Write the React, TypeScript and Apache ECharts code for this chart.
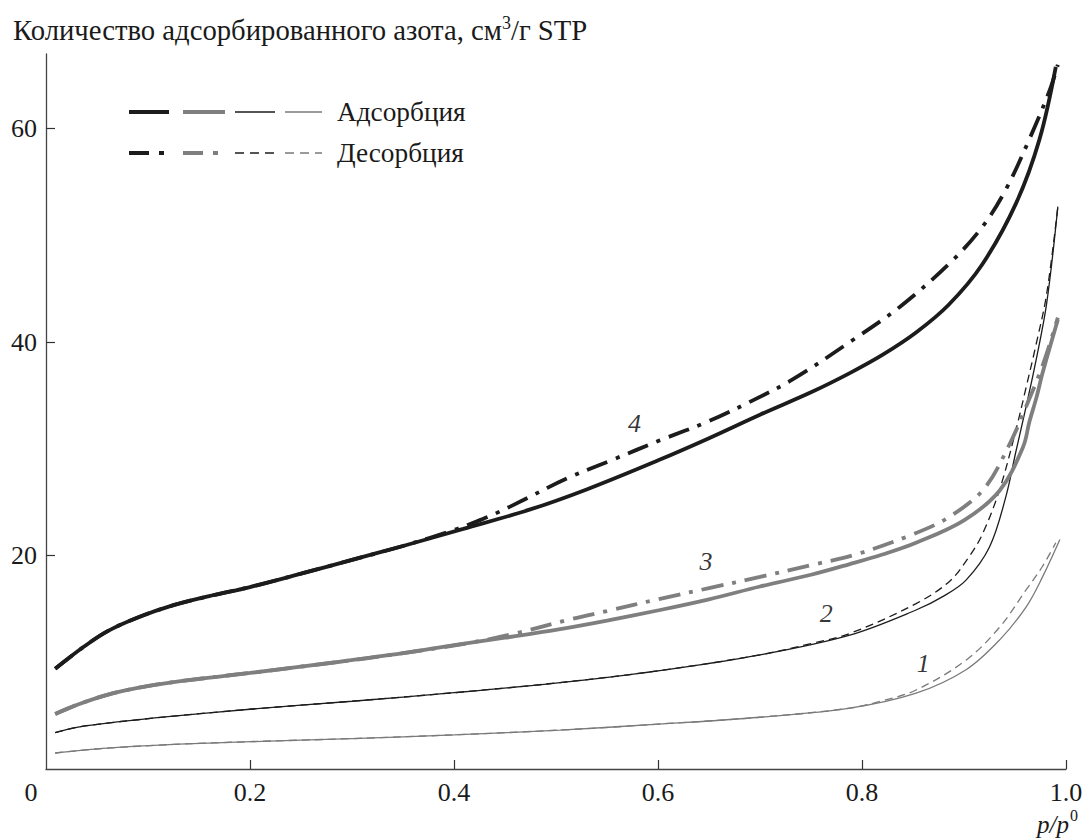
import React, { useEffect, useRef } from 'react';
import * as echarts from 'echarts';

// Axis ticks
const xTickValues = [0, 0.2, 0.4, 0.6, 0.8, 1.0];
const yTickValues = [20, 40, 60];

// Curve 1 (thin gray)
const ads1 = [[0.009,1.5],[0.06,1.95],[0.125,2.3],[0.2,2.56],[0.3,2.85],[0.4,3.2],[0.504,3.65],[0.6,4.2],[0.7,4.85],[0.788,5.7],[0.853,7.1],[0.902,9.3],[0.935,12.1],[0.961,15.2],[0.977,18.0],[0.994,21.5]];
const des1 = [[0.009,1.5],[0.06,1.95],[0.125,2.3],[0.2,2.56],[0.3,2.85],[0.4,3.2],[0.504,3.65],[0.6,4.2],[0.7,4.85],[0.788,5.7],[0.82,6.4],[0.853,7.4],[0.902,10.2],[0.935,13.3],[0.961,16.8],[0.977,19.0],[0.99,21.2]];

// Curve 2 (thin black)
const ads2 = [[0.009,3.4],[0.03,3.9],[0.06,4.3],[0.125,4.95],[0.2,5.6],[0.3,6.35],[0.4,7.15],[0.504,8.1],[0.6,9.2],[0.7,10.7],[0.788,12.55],[0.853,14.9],[0.88,16.2],[0.902,17.7],[0.925,20.8],[0.941,25.5],[0.951,29.8],[0.961,34.0],[0.97,38.0],[0.981,43.6],[0.992,52.7]];
const des2 = [[0.009,3.4],[0.03,3.9],[0.06,4.3],[0.125,4.95],[0.2,5.6],[0.3,6.35],[0.4,7.15],[0.504,8.1],[0.6,9.2],[0.7,10.7],[0.75,11.75],[0.788,12.7],[0.853,15.5],[0.886,17.6],[0.905,19.9],[0.918,22.0],[0.935,26.2],[0.951,31.8],[0.961,35.8],[0.97,39.5],[0.981,44.5],[0.992,52.7]];

// Curve 3 (thick gray)
const ads3 = [[0.009,5.15],[0.03,6.0],[0.06,6.95],[0.09,7.6],[0.125,8.15],[0.2,9.0],[0.288,10.05],[0.35,10.85],[0.4,11.6],[0.45,12.3],[0.504,13.1],[0.55,13.9],[0.602,14.9],[0.65,15.9],[0.7,17.1],[0.75,18.2],[0.788,19.2],[0.82,20.1],[0.853,21.2],[0.9,23.3],[0.935,26.1],[0.958,30.2],[0.964,32.5],[0.971,34.8],[0.977,37.1],[0.992,42.1]];
const des3 = [[0.009,5.15],[0.03,6.0],[0.06,6.95],[0.09,7.6],[0.125,8.15],[0.2,9.0],[0.288,10.05],[0.35,10.85],[0.42,11.9],[0.46,12.7],[0.513,14.0],[0.55,14.8],[0.602,15.95],[0.65,16.95],[0.7,18.0],[0.75,19.1],[0.794,20.1],[0.85,22.0],[0.886,23.65],[0.92,26.3],[0.945,30.5],[0.961,34.0],[0.977,37.8],[0.992,42.3]];

// Curve 4 (thick black)
const ads4 = [[0.009,9.4],[0.037,11.45],[0.06,12.9],[0.09,14.2],[0.125,15.35],[0.16,16.2],[0.2,17.05],[0.25,18.3],[0.3,19.6],[0.35,20.9],[0.409,22.5],[0.474,24.3],[0.53,26.2],[0.602,29.0],[0.65,31.0],[0.7,33.2],[0.75,35.3],[0.788,37.1],[0.82,38.8],[0.853,40.9],[0.885,43.5],[0.918,47.3],[0.951,53.0],[0.974,59.0],[0.99,65.8]];
const des4 = [[0.009,9.4],[0.037,11.45],[0.06,12.9],[0.09,14.2],[0.125,15.35],[0.16,16.2],[0.2,17.05],[0.25,18.3],[0.3,19.6],[0.35,20.9],[0.4,22.4],[0.422,23.2],[0.442,24.0],[0.468,25.2],[0.51,27.2],[0.556,29.0],[0.602,30.8],[0.65,32.6],[0.69,34.4],[0.732,36.5],[0.791,40.2],[0.837,43.3],[0.886,47.4],[0.918,50.8],[0.941,54.3],[0.964,59.0],[0.984,63.6],[0.992,66.0]];

// Curve number labels [x, y, text]
const curveLabels = [[0.577, 32.4, '4'], [0.647, 19.4, '3'], [0.765, 14.6, '2'], [0.86, 9.9, '1']];

const FONT = 'Liberation Serif';
const INK = '#1a1a1a';
const BLACK = '#1c1c1c';
const GRAY = '#7f7f7f';
const THIN_GRAY = '#7a7a7a';
const DASH_DOT = [22, 9, 4, 9];
const DASH = [8, 5];

function lineSeries(name: string, data: number[][], color: string, width: number, type: any) {
  return {
    name,
    type: 'line',
    data,
    showSymbol: false,
    symbol: 'none',
    smooth: 0.35,
    lineStyle: { color, width, type, cap: 'butt' },
    silent: true,
  };
}

export default function App() {
  const ref = useRef<HTMLDivElement>(null);
  useEffect(() => {
    const chart = echarts.init(ref.current!, null, { renderer: 'svg' });
    const textBase = { fontFamily: FONT, fontSize: 26, color: INK };
    const legendRows = [
      { y: 112, items: [
        { x1: 129, x2: 169, c: BLACK, w: 4, d: null },
        { x1: 183, x2: 225, c: GRAY, w: 4, d: null },
        { x1: 235, x2: 275, c: BLACK, w: 1.3, d: null },
        { x1: 285, x2: 322, c: THIN_GRAY, w: 1.3, d: null },
      ], label: 'Адсорбция' },
      { y: 153, items: [
        { x1: 129, x2: 149, c: BLACK, w: 4, d: null },
        { x1: 159, x2: 164, c: BLACK, w: 4, d: null },
        { x1: 183, x2: 203, c: GRAY, w: 4, d: null },
        { x1: 213, x2: 218, c: GRAY, w: 4, d: null },
        { x1: 235, x2: 275, c: BLACK, w: 1.3, d: [9, 6] },
        { x1: 285, x2: 322, c: THIN_GRAY, w: 1.3, d: [9, 6] },
      ], label: 'Десорбция' },
    ];
    const graphics: any[] = [];
    legendRows.forEach((row) => {
      row.items.forEach((it) => {
        graphics.push({
          type: 'line',
          shape: { x1: it.x1, y1: row.y, x2: it.x2, y2: row.y },
          style: { stroke: it.c, lineWidth: it.w, lineDash: it.d || undefined, lineCap: 'butt' },
        });
      });
      graphics.push({
        type: 'text', x: 337, y: row.y,
        style: { text: row.label, fill: INK, fontFamily: FONT, fontSize: 27.3, verticalAlign: 'middle', align: 'left' },
      });
    });
    graphics.push({
      type: 'text', x: 13, y: 30,
      style: {
        text: '{t|Количество адсорбированного азота, см}{s|3}{t|/г STP}',
        verticalAlign: 'middle', align: 'left',
        rich: {
          t: { fontFamily: FONT, fontSize: 28.7, fill: INK, lineHeight: 32 },
          s: { fontFamily: FONT, fontSize: 18, fill: INK, verticalAlign: 'top', lineHeight: 32 },
        },
      },
    });
    graphics.push({
      type: 'text', x: 1069, y: 824,
      style: { text: 'p/p', fill: INK, fontFamily: FONT, fontSize: 25, fontStyle: 'italic', align: 'right', verticalAlign: 'middle' },
    });
    graphics.push({
      type: 'text', x: 1070, y: 815.5,
      style: { text: '0', fill: INK, fontFamily: FONT, fontSize: 16, align: 'left', verticalAlign: 'middle' },
    });

    const option: any = {
      animation: false,
      backgroundColor: '#fff',
      grid: { left: 46, right: 20, top: 54, bottom: 69, containLabel: false },
      xAxis: {
        type: 'value', min: 0, max: 1, interval: 0.2,
        axisLine: { show: true, lineStyle: { color: '#444', width: 1.3 } },
        axisTick: { show: true, inside: true, length: 9, lineStyle: { color: '#333', width: 1.2 }, customValues: xTickValues.filter((v) => v > 0) },
        axisLabel: {
          ...textBase, margin: 10, customValues: xTickValues,
          formatter: (v: number) => (v === 0 ? '{z|0}' : v === 1 ? '1.0' : v.toFixed(1)),
          rich: { z: { fontFamily: FONT, fontSize: 26, color: INK, padding: [0, 30, 0, 0] } },
        },
        splitLine: { show: false },
      },
      yAxis: {
        type: 'value', min: 0, max: 67, interval: 20,
        axisLine: { show: true, lineStyle: { color: '#444', width: 1.3 } },
        axisTick: { show: true, inside: true, length: 9, lineStyle: { color: '#333', width: 1.2 }, customValues: yTickValues },
        axisLabel: {
          ...textBase, margin: 9, customValues: yTickValues,
          formatter: (v: number) => (v > 0 && v % 20 === 0 ? String(v) : ''),
        },
        splitLine: { show: false },
      },
      graphic: graphics,
      series: [
        lineSeries('1 адсорбция', ads1, THIN_GRAY, 1.3, 'solid'),
        lineSeries('1 десорбция', des1, THIN_GRAY, 1.3, DASH),
        lineSeries('2 адсорбция', ads2, BLACK, 1.3, 'solid'),
        lineSeries('2 десорбция', des2, BLACK, 1.3, DASH),
        lineSeries('3 адсорбция', ads3, GRAY, 3.8, 'solid'),
        lineSeries('3 десорбция', des3, GRAY, 3.8, DASH_DOT),
        lineSeries('4 адсорбция', ads4, BLACK, 3.8, 'solid'),
        lineSeries('4 десорбция', des4, BLACK, 3.8, DASH_DOT),
        {
          type: 'scatter',
          data: curveLabels,
          symbol: 'circle',
          symbolSize: 1,
          itemStyle: { color: 'rgba(0,0,0,0)' },
          silent: true,
          label: {
            show: true, position: 'inside',
            formatter: (p: any) => p.data[2],
            fontFamily: FONT, fontSize: 26, fontStyle: 'italic', color: '#000',
            textBorderWidth: 0,
          },
        },
      ],
    };
    chart.setOption(option);
    return () => chart.dispose();
  }, []);
  return <div ref={ref} style={{ position: 'fixed', left: 0, top: 0, width: 1086, height: 838, background: '#fff' }} />;
}
